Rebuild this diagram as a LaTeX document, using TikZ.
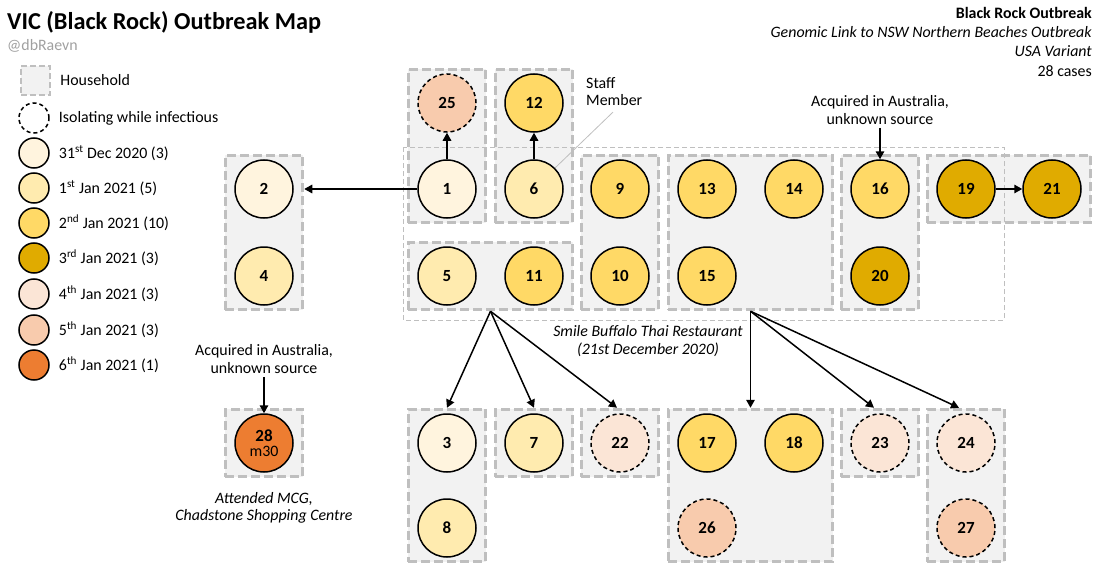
\documentclass[tikz,border=0pt]{standalone}
\usepackage{fontspec}
\setmainfont{Carlito}
\usepackage{tikz}
\usetikzlibrary{arrows.meta}
\usetikzlibrary{positioning}
\usetikzlibrary{fit}
\usetikzlibrary{backgrounds}
\usetikzlibrary{calc}

\definecolor{hhfill}{HTML}{F2F2F2}
\definecolor{hhline}{HTML}{BFBFBF}
\definecolor{handlegray}{HTML}{A0A0A0}
\definecolor{dDecA}{HTML}{FFF4DE}
\definecolor{dJanA}{HTML}{FFEBAF}
\definecolor{dJanB}{HTML}{FFD966}
\definecolor{dJanC}{HTML}{E0AB00}
\definecolor{dJanD}{HTML}{FBE5D6}
\definecolor{dJanE}{HTML}{F8CBAD}
\definecolor{dJanF}{HTML}{ED7D31}

\newcommand{\mapfont}{\fontsize{15.9}{17.6}\selectfont}
\newcommand{\casefont}{\fontsize{17}{18}\selectfont\bfseries}
\newcommand{\titlefont}{\fontsize{24.3}{28}\selectfont\bfseries}

\begin{document}
\begin{tikzpicture}[x=1pt,y=-1pt,font=\mapfont,
  case/.style={circle,draw=black,line width=1.5pt,minimum size=58pt,inner sep=0pt,font=\casefont},
  isolating/.style={dash pattern=on 4pt off 3pt},
  household/.style={rectangle,draw=hhline,fill=hhfill,line width=3pt,dash pattern=on 9pt off 4pt,inner xsep=9pt,inner ysep=4pt},
  venue/.style={draw=hhline,line width=0.8pt,dash pattern=on 5pt off 3pt},
  legcase/.style={circle,draw=black,line width=1.5pt,minimum size=30pt,inner sep=0pt},
  legtext/.style={anchor=west,inner sep=0pt},
  link/.style={-{Triangle[length=8pt,width=8.5pt]},line width=1.5pt},
  leader/.style={draw=hhline,line width=0.8pt}]
\useasboundingbox (0,0) rectangle (1104,578);

% title block
\node (title) [anchor=west,inner sep=0pt,font=\titlefont] at (7,22) {VIC (Black Rock) Outbreak Map};
\node (handle) [anchor=west,inner sep=0pt,text=handlegray] at (7,46) {@dbRaevn};
\node (about) [anchor=north east,inner sep=0pt,align=right,font=\fontsize{15.9}{19.3}\selectfont] at (1092,7)
  {\textbf{Black Rock Outbreak}\\\textit{Genomic Link to NSW Northern Beaches Outbreak}\\\textit{USA Variant}\\28 cases};

% legend
\node (lhouse) [household,line width=2.5pt,dash pattern=on 6pt off 3pt,minimum size=29pt,inner sep=0pt] at (35.5,80.5) {};
\node (liso) [legcase,isolating] at (34,118) {};
\node (lDecA) [legcase,fill=dDecA] at (34,153) {};
\node (lJanA) [legcase,fill=dJanA] at (34,188) {};
\node (lJanB) [legcase,fill=dJanB] at (34,223) {};
\node (lJanC) [legcase,fill=dJanC] at (34,258) {};
\node (lJanD) [legcase,fill=dJanD] at (34,294) {};
\node (lJanE) [legcase,fill=dJanE] at (34,330) {};
\node (lJanF) [legcase,fill=dJanF] at (34,365) {};
\node (thouse) [legtext,right=9pt of lhouse] {Household};
\node (tiso) [legtext,right=9pt of liso] {Isolating while infectious};
\node (tDecA) [legtext,right=9pt of lDecA] {31\textsuperscript{st} Dec 2020 (3)};
\node (tJanA) [legtext,right=9pt of lJanA] {1\textsuperscript{st} Jan 2021 (5)};
\node (tJanB) [legtext,right=9pt of lJanB] {2\textsuperscript{nd} Jan 2021 (10)};
\node (tJanC) [legtext,right=9pt of lJanC] {3\textsuperscript{rd} Jan 2021 (3)};
\node (tJanD) [legtext,right=9pt of lJanD] {4\textsuperscript{th} Jan 2021 (3)};
\node (tJanE) [legtext,right=9pt of lJanE] {5\textsuperscript{th} Jan 2021 (3)};
\node (tJanF) [legtext,right=9pt of lJanF] {6\textsuperscript{th} Jan 2021 (1)};

% cases
\node (c25) [case,isolating,fill=dJanE] at (447,103) {25};
\node (c12) [case,fill=dJanB] at (534,103) {12};
\node (c2) [case,fill=dDecA] at (264,189) {2};
\node (c4) [case,fill=dJanA] at (264,276) {4};
\node (c1) [case,fill=dDecA] at (447,189) {1};
\node (c6) [case,fill=dJanA] at (534,189) {6};
\node (c9) [case,fill=dJanB] at (620,189) {9};
\node (c13) [case,fill=dJanB] at (707,189) {13};
\node (c14) [case,fill=dJanB] at (794,189) {14};
\node (c16) [case,fill=dJanB] at (880,189) {16};
\node (c19) [case,fill=dJanC] at (966,189) {19};
\node (c21) [case,fill=dJanC] at (1052,189) {21};
\node (c5) [case,fill=dJanA] at (447,276) {5};
\node (c11) [case,fill=dJanB] at (534,276) {11};
\node (c10) [case,fill=dJanB] at (620,276) {10};
\node (c15) [case,fill=dJanB] at (707,276) {15};
\node (c20) [case,fill=dJanC] at (880,276) {20};
\node (c28) [case,fill=dJanF,align=center] at (264,443) {28\\[-3pt]{\mdseries\mapfont m30}};
\node (c3) [case,fill=dDecA] at (447,443) {3};
\node (c7) [case,fill=dJanA] at (534,443) {7};
\node (c22) [case,isolating,fill=dJanD] at (620,443) {22};
\node (c17) [case,fill=dJanB] at (707,443) {17};
\node (c18) [case,fill=dJanB] at (794,443) {18};
\node (c23) [case,isolating,fill=dJanD] at (880,443) {23};
\node (c24) [case,isolating,fill=dJanD] at (966,443) {24};
\node (c8) [case,fill=dJanA] at (447,528) {8};
\node (c26) [case,isolating,fill=dJanE] at (707,528) {26};
\node (c27) [case,isolating,fill=dJanE] at (966,528) {27};

% households
\begin{scope}[on background layer]
\node (h1) [household,fit=(c1)(c25)] {};
\node (h6) [household,fit=(c6)(c12)] {};
\node (h2) [household,fit=(c2)(c4)] {};
\node (h5) [household,fit=(c5)(c11)] {};
\node (h9) [household,fit=(c9)(c10)] {};
\node (h13) [household,fit=(c13)(c14)(c15)] {};
\node (h16) [household,fit=(c16)(c20)] {};
\node (h19) [household,fit=(c19)(c21)] {};
\node (h28) [household,fit=(c28)] {};
\node (h3) [household,fit=(c3)(c8)] {};
\node (h7) [household,fit=(c7)] {};
\node (h22) [household,fit=(c22)] {};
\node (h17) [household,fit=(c17)(c18)(c26)] {};
\node (h23) [household,fit=(c23)] {};
\node (h24) [household,fit=(c24)(c27)] {};
\end{scope}

% restaurant
\draw [venue] (403,147) rectangle (1004,320);
\node (venuelabel) [align=center,font=\mapfont\itshape] at (648,341) {Smile Buffalo Thai Restaurant\\(21st December 2020)};

% notes
\node (staffnote) [align=left,inner sep=2pt,anchor=north west] at (584,75) {Staff\\Member};
\node (src16) [align=center] at (880,110) {Acquired in Australia,\\unknown source};
\node (src28) [align=center] at (264,359) {Acquired in Australia,\\unknown source};
\node (mcg) [align=center,font=\mapfont\itshape] at (264,508) {Attended MCG,\\Chadstone Shopping Centre};

% spread
\draw [leader] (c6.north east) -- ($(staffnote.south west)+(29,4)$);
\draw [link] (c1) -- (c25);
\draw [link] (c6) -- (c12);
\draw [link] (c1) -- (c1 -| h2.east);
\draw [link] (c19) -- (c21);
\draw [link] (src16) -- (c16);
\draw [link] (src28) -- (c28);
\draw [link] (h5.south) -- (h3.north);
\draw [link] (h5.south) -- (h7.north);
\draw [link] (h5.south) -- ($(h22.north)+(-3,0)$);
\draw [link] (h13.south) -- (h17.north);
\draw [link] (h13.south) -- ($(h23.north)+(-6,0)$);
\draw [link] (h13.south) -- ($(h24.north)+(-7,0)$);
\end{tikzpicture}
\end{document}
